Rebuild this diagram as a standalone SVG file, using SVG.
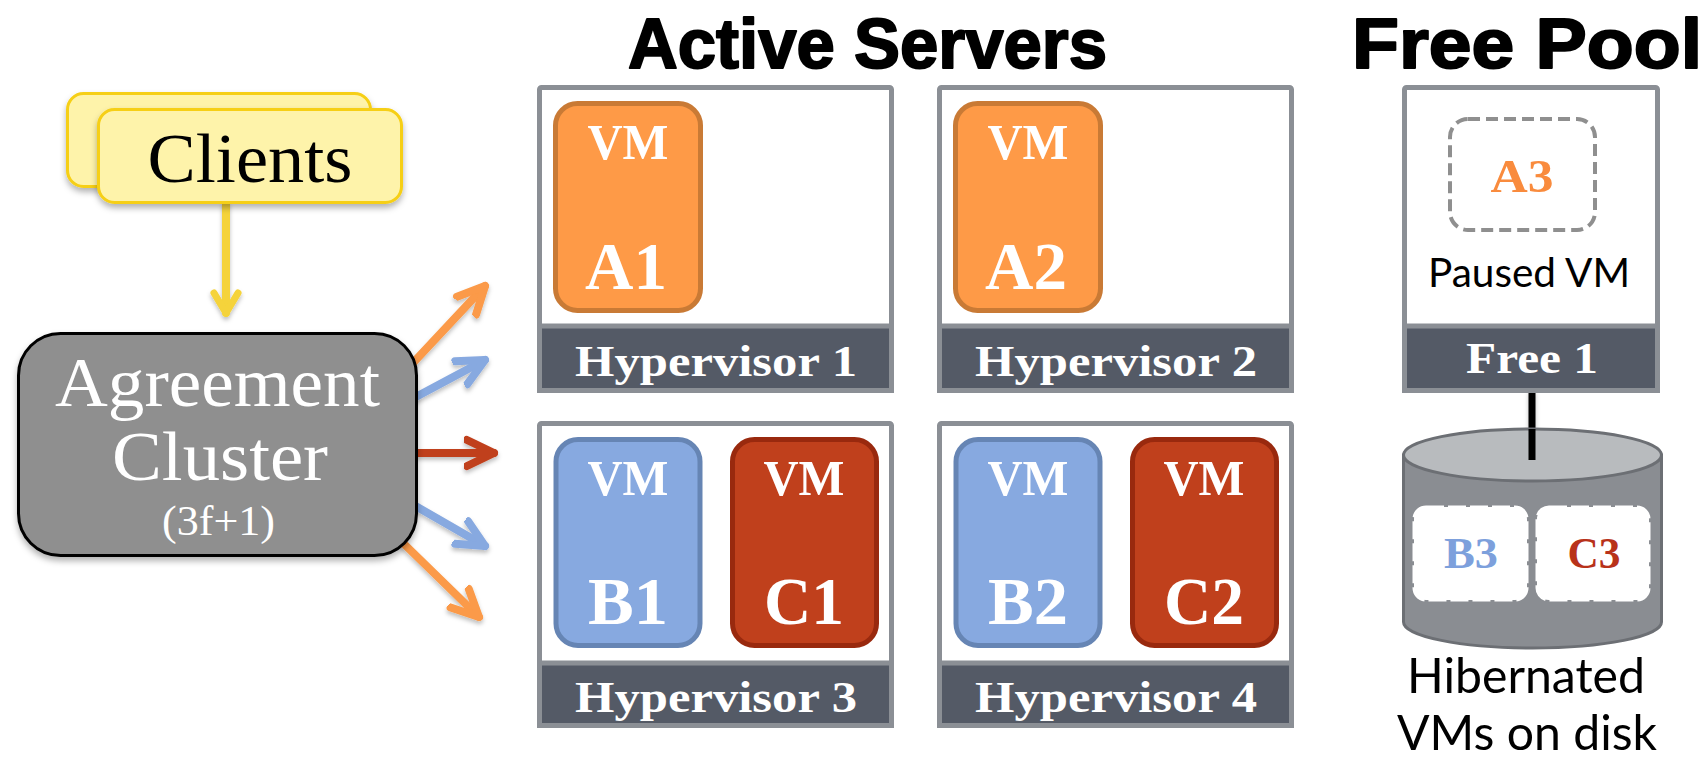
<svg xmlns="http://www.w3.org/2000/svg" width="1708" height="761" viewBox="0 0 1708 761">
  <style>
    .title { font-family: "Liberation Sans", Arial, sans-serif; font-weight: bold; font-size: 70px; fill: #000; stroke: #000; stroke-width: 2; stroke-linejoin: round; }
    .hvbox { fill: #fff; stroke: #8b8f95; stroke-width: 5; }
    .hvbar { fill: #545a66; stroke: #8b8f95; stroke-width: 5; }
    .hvtxt { font-family: "Liberation Serif", "Times New Roman", serif; font-weight: bold; font-size: 44px; fill: #fff; text-anchor: middle; }
    .vmA { fill: #fe9a47; stroke: #c97a35; stroke-width: 5; }
    .vmB { fill: #87a9e0; stroke: #6685b4; stroke-width: 5; }
    .vmC { fill: #c0401c; stroke: #99290e; stroke-width: 5; }
    .vmtop { font-family: "Liberation Serif", "Times New Roman", serif; font-weight: bold; font-size: 50px; fill: #fff; text-anchor: middle; }
    .vmlbl { font-family: "Liberation Serif", "Times New Roman", serif; font-weight: bold; font-size: 68px; fill: #fff; text-anchor: middle; }
    .sans { font-family: Lato, "Liberation Sans", sans-serif; fill: #000; text-anchor: middle; }
    .serif { font-family: "Liberation Serif", "Times New Roman", serif; text-anchor: middle; }
    .conn { fill: none; stroke-linecap: round; stroke-linejoin: round; stroke-width: 8; }
  </style>
  <defs>
    <filter id="sh" x="-20%" y="-20%" width="140%" height="150%">
      <feDropShadow dx="0" dy="4" stdDeviation="3" flood-color="#000" flood-opacity="0.3"/>
    </filter>
    <filter id="shs" filterUnits="userSpaceOnUse" x="0" y="0" width="1708" height="761">
      <feDropShadow dx="0" dy="3" stdDeviation="2" flood-color="#000" flood-opacity="0.25"/>
    </filter>
    <marker id="mO" markerUnits="userSpaceOnUse" markerWidth="60" markerHeight="60" refX="30" refY="30" orient="auto" viewBox="0 0 60 60">
      <path d="M3,17 L30,30 L3,43" fill="none" stroke="#fb9a48" stroke-width="8" stroke-linecap="round" stroke-linejoin="round"/>
    </marker>
    <marker id="mB" markerUnits="userSpaceOnUse" markerWidth="60" markerHeight="60" refX="30" refY="30" orient="auto" viewBox="0 0 60 60">
      <path d="M3,17 L30,30 L3,43" fill="none" stroke="#87a9e0" stroke-width="8" stroke-linecap="round" stroke-linejoin="round"/>
    </marker>
    <marker id="mR" markerUnits="userSpaceOnUse" markerWidth="60" markerHeight="60" refX="30" refY="30" orient="auto" viewBox="0 0 60 60">
      <path d="M3,17 L30,30 L3,43" fill="none" stroke="#c0401c" stroke-width="8" stroke-linecap="round" stroke-linejoin="round"/>
    </marker>
    <marker id="mY" markerUnits="userSpaceOnUse" markerWidth="60" markerHeight="60" refX="30" refY="30" orient="auto" viewBox="0 0 60 60">
      <path d="M10,18 L30,30 L10,42" fill="none" stroke="#f5d33a" stroke-width="7" stroke-linecap="round" stroke-linejoin="round"/>
    </marker>
  </defs>

  <rect x="0" y="0" width="1708" height="761" fill="#fff"/>

  <!-- Titles -->
  <g id="title-active">
    <text class="title" x="628" y="68" textLength="479" lengthAdjust="spacingAndGlyphs">Active Servers</text>
  </g>
  <g id="title-free">
    <text class="title" x="1352" y="68" textLength="350" lengthAdjust="spacingAndGlyphs">Free Pool</text>
  </g>

  <!-- Connectors -->
  <g id="connectors" filter="url(#shs)">
    <line class="conn" x1="226" y1="204" x2="226" y2="313" stroke="#f5d33a" stroke-width="7" marker-end="url(#mY)"/>
    <line class="conn" x1="412" y1="364" x2="485" y2="286" stroke="#fb9a48" marker-end="url(#mO)"/>
    <line class="conn" x1="412" y1="399" x2="485" y2="360" stroke="#87a9e0" marker-end="url(#mB)"/>
    <line class="conn" x1="412" y1="453" x2="494" y2="453" stroke="#c0401c" marker-end="url(#mR)"/>
    <line class="conn" x1="412" y1="504" x2="485" y2="546" stroke="#87a9e0" marker-end="url(#mB)"/>
    <line class="conn" x1="402" y1="542" x2="479" y2="617" stroke="#fb9a48" marker-end="url(#mO)"/>
    <line x1="1532" y1="390" x2="1532" y2="460" stroke="#000" stroke-width="7"/>
  </g>

  <!-- Clients -->
  <g id="clients">
    <rect x="67.5" y="93.5" width="303" height="93" rx="16" fill="#fef3aa" stroke="#f6cf14" stroke-width="3" filter="url(#sh)"/>
    <rect x="98.5" y="109.5" width="303" height="93" rx="16" fill="#fef3aa" stroke="#f6cf14" stroke-width="3" filter="url(#sh)"/>
    <text class="serif" x="250" y="182" font-size="70" fill="#000" textLength="205" lengthAdjust="spacingAndGlyphs">Clients</text>
  </g>

  <!-- Agreement Cluster -->
  <g id="agreement">
    <rect x="18.5" y="333.5" width="398" height="222" rx="42" fill="#8f8f8f" stroke="#000" stroke-width="3" filter="url(#sh)"/>
    <text class="serif" x="217.5" y="406" font-size="70" fill="#fff" textLength="325" lengthAdjust="spacingAndGlyphs">Agreement</text>
    <text class="serif" x="220" y="480" font-size="70" fill="#fff" textLength="216" lengthAdjust="spacingAndGlyphs">Cluster</text>
    <text class="serif" x="218.5" y="535" font-size="42" fill="#fff" textLength="113" lengthAdjust="spacingAndGlyphs">(3f+1)</text>
  </g>

  <!-- Hypervisor 1 -->
  <g id="hypervisor1">
    <rect class="hvbox" x="539.5" y="87.5" width="352" height="303" rx="2"/>
    <rect class="hvbar" x="539.5" y="326" width="352" height="64.5"/>
    <text class="hvtxt" x="716" y="376" textLength="282" lengthAdjust="spacingAndGlyphs">Hypervisor 1</text>
    <g id="vm-a1">
      <rect class="vmA" x="555.5" y="103.5" width="145" height="207" rx="22"/>
      <text class="vmtop" x="628" y="159" textLength="81" lengthAdjust="spacingAndGlyphs">VM</text>
      <text class="vmlbl" x="626" y="289" textLength="82" lengthAdjust="spacingAndGlyphs">A1</text>
    </g>
  </g>

  <!-- Hypervisor 2 -->
  <g id="hypervisor2">
    <rect class="hvbox" x="939.5" y="87.5" width="352" height="303" rx="2"/>
    <rect class="hvbar" x="939.5" y="326" width="352" height="64.5"/>
    <text class="hvtxt" x="1116" y="376" textLength="282" lengthAdjust="spacingAndGlyphs">Hypervisor 2</text>
    <g id="vm-a2">
      <rect class="vmA" x="955.5" y="103.5" width="145" height="207" rx="22"/>
      <text class="vmtop" x="1028" y="159" textLength="81" lengthAdjust="spacingAndGlyphs">VM</text>
      <text class="vmlbl" x="1026" y="289" textLength="82" lengthAdjust="spacingAndGlyphs">A2</text>
    </g>
  </g>

  <!-- Hypervisor 3 -->
  <g id="hypervisor3">
    <rect class="hvbox" x="539.5" y="423.5" width="352" height="302" rx="2"/>
    <rect class="hvbar" x="539.5" y="663" width="352" height="62.5"/>
    <text class="hvtxt" x="716" y="712" textLength="282" lengthAdjust="spacingAndGlyphs">Hypervisor 3</text>
    <g id="vm-b1">
      <rect class="vmB" x="556" y="439.5" width="144" height="206" rx="22"/>
      <text class="vmtop" x="628" y="495" textLength="81" lengthAdjust="spacingAndGlyphs">VM</text>
      <text class="vmlbl" x="628" y="624" textLength="80" lengthAdjust="spacingAndGlyphs">B1</text>
    </g>
    <g id="vm-c1">
      <rect class="vmC" x="732.5" y="439.5" width="144" height="206" rx="22"/>
      <text class="vmtop" x="804" y="495" textLength="81" lengthAdjust="spacingAndGlyphs">VM</text>
      <text class="vmlbl" x="804" y="624" textLength="80" lengthAdjust="spacingAndGlyphs">C1</text>
    </g>
  </g>

  <!-- Hypervisor 4 -->
  <g id="hypervisor4">
    <rect class="hvbox" x="939.5" y="423.5" width="352" height="302" rx="2"/>
    <rect class="hvbar" x="939.5" y="663" width="352" height="62.5"/>
    <text class="hvtxt" x="1116" y="712" textLength="282" lengthAdjust="spacingAndGlyphs">Hypervisor 4</text>
    <g id="vm-b2">
      <rect class="vmB" x="956" y="439.5" width="144" height="206" rx="22"/>
      <text class="vmtop" x="1028" y="495" textLength="81" lengthAdjust="spacingAndGlyphs">VM</text>
      <text class="vmlbl" x="1028" y="624" textLength="80" lengthAdjust="spacingAndGlyphs">B2</text>
    </g>
    <g id="vm-c2">
      <rect class="vmC" x="1132.5" y="439.5" width="144" height="206" rx="22"/>
      <text class="vmtop" x="1204" y="495" textLength="81" lengthAdjust="spacingAndGlyphs">VM</text>
      <text class="vmlbl" x="1204" y="624" textLength="80" lengthAdjust="spacingAndGlyphs">C2</text>
    </g>
  </g>

  <!-- Free 1 -->
  <g id="free1">
    <rect class="hvbox" x="1404.5" y="87.5" width="253" height="303" rx="2"/>
    <rect class="hvbar" x="1404.5" y="326" width="253" height="64.5"/>
    <text class="hvtxt" x="1532" y="373" textLength="132" lengthAdjust="spacingAndGlyphs">Free 1</text>
    <g id="vm-a3">
      <rect x="1450" y="119" width="145" height="111" rx="18" fill="none" stroke="#8f8f8f" stroke-width="4" stroke-dasharray="12 6"/>
      <text class="serif" x="1522" y="192" font-size="46" font-weight="bold" fill="#f98b3d" textLength="63" lengthAdjust="spacingAndGlyphs">A3</text>
    </g>
    <text class="sans" x="1529" y="287" font-size="41" textLength="202" lengthAdjust="spacingAndGlyphs">Paused VM</text>
  </g>

  <!-- Disk -->
  <g id="disk">
    <path d="M1403.5,455 L1403.5,622 A129,26 0 0 0 1661.5,622 L1661.5,455 Z" fill="#8a8d92" stroke="#6c6f74" stroke-width="3"/>
    <ellipse cx="1532.5" cy="455" rx="129" ry="26" fill="#b8bbbe" stroke="#6c6f74" stroke-width="3"/>
    <line x1="1532" y1="429" x2="1532" y2="460" stroke="#000" stroke-width="7"/>
    <g id="vm-b3">
      <rect x="1414" y="507" width="113" height="93" rx="12" fill="#fff" stroke="#fff" stroke-width="3" stroke-dasharray="18 4"/>
      <text class="serif" x="1471" y="568" font-size="44" font-weight="bold" fill="#7da0dc" textLength="54" lengthAdjust="spacingAndGlyphs">B3</text>
    </g>
    <g id="vm-c3">
      <rect x="1537" y="507" width="112" height="93" rx="12" fill="#fff" stroke="#fff" stroke-width="3" stroke-dasharray="18 4"/>
      <text class="serif" x="1594" y="568" font-size="44" font-weight="bold" fill="#b8321a" textLength="53" lengthAdjust="spacingAndGlyphs">C3</text>
    </g>
    <text class="sans" x="1526" y="693" font-size="49" textLength="238" lengthAdjust="spacingAndGlyphs">Hibernated</text>
    <text class="sans" x="1527" y="750" font-size="49" textLength="260" lengthAdjust="spacingAndGlyphs">VMs on disk</text>
  </g>
</svg>
